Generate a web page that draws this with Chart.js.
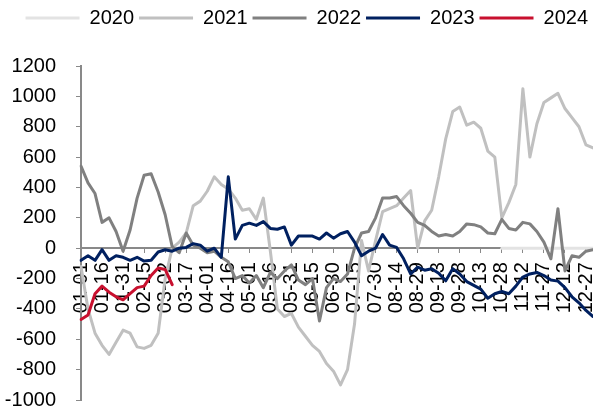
<!DOCTYPE html>
<html>
<head>
<meta charset="utf-8">
<script src="https://cdn.jsdelivr.net/npm/chart.js@4.4.1/dist/chart.umd.min.js"></script>
<style>
  html, body { margin: 0; padding: 0; background: #ffffff; }
  #wrap { width: 593px; height: 412px; }
</style>
</head>
<body>
<div id="wrap"><canvas id="c" width="593" height="412"></canvas></div>
<script>
// ---- data (5-day steps) ----
const categories = [
  '01-01','01-06','01-11','01-16','01-21','01-26','01-31','02-05','02-10','02-15',
  '02-20','02-25','03-02','03-07','03-12','03-17','03-22','03-27','04-01','04-06',
  '04-11','04-16','04-21','04-26','05-01','05-06','05-11','05-16','05-21','05-26',
  '05-31','06-05','06-10','06-15','06-20','06-25','06-30','07-05','07-10','07-15',
  '07-20','07-25','07-30','08-04','08-09','08-14','08-19','08-24','08-29','09-03',
  '09-08','09-13','09-18','09-23','09-28','10-03','10-08','10-13','10-18','10-23',
  '10-28','11-02','11-07','11-12','11-17','11-22','11-27','12-02','12-07','12-12',
  '12-17','12-22','12-27','12-31'
];

const tickLabels = [
  '01-01','01-16','01-31','02-15','03-02','03-17','04-01','04-16','05-01','05-16',
  '05-31','06-15','06-30','07-15','07-30','08-14','08-29','09-13','09-28','10-13',
  '10-28','11-12','11-27','12-12','12-27'
];

const yTicks = { min: -1000, max: 1200, step: 200 };

const s2020 = [
  null,null,null,null,null,null,null,null,null,null,
  null,null,null,null,null,null,null,null,null,null,
  null,null,null,null,null,null,null,null,null,null,
  null,null,null,null,null,null,null,null,null,null,
  null,null,null,null,null,null,null,null,null,null,
  null,null,null,null,null,null,null,null,null,null,
  0,0,0,0,0,0,0,0,0,0,
  0,0,0,0
];

const s2021 = [
  -120,-400,-560,-640,-700,-620,-540,-560,-650,-660,
  -640,-560,-200,0,40,100,280,310,375,470,
  420,390,330,250,260,190,330,-20,-400,-450,
  -430,-520,-580,-640,-680,-760,-810,-900,-800,-500,
  50,-150,50,240,260,280,330,380,0,180,
  250,470,720,900,930,810,830,790,640,600,
  200,300,420,1050,600,820,960,990,1020,920,
  860,800,680,660
];

const s2022 = [
  540,430,360,170,200,110,-20,120,330,480,
  490,370,220,10,-30,100,20,0,-30,-20,
  -60,-90,-200,-180,-230,-180,-260,-160,-200,-150,
  -110,-210,-240,-200,-480,-260,-200,-220,-170,0,
  100,110,200,330,330,340,280,230,170,150,
  110,80,90,80,110,160,155,140,100,95,
  190,130,120,170,160,110,40,-70,260,-150,
  -50,-60,-20,-10
];

const s2023 = [
  -80,-50,-80,-10,-80,-50,-60,-80,-60,-85,
  -80,-25,-10,-20,0,5,30,20,-20,0,
  -60,470,60,150,165,150,175,130,125,140,
  20,80,80,80,60,100,66,95,110,40,
  -50,-20,0,90,20,5,-70,-170,-125,-145,
  -135,-165,-215,-135,-170,-220,-245,-270,-330,-300,
  -285,-300,-250,-190,-170,-160,-180,-210,-217,-260,
  -320,-360,-410,-450
];

const s2024 = [
  -470,-440,-300,-250,-290,-320,-340,-300,-260,-250,
  -180,-130,-140,-240
];

const AXIS = '#898989';
const FONT = 'Arial, "Liberation Sans", sans-serif';

Chart.defaults.font.family = FONT;
Chart.defaults.font.size = 20;
Chart.defaults.color = '#000000';

function ds(label, data, color, order) {
  return {
    label, data,
    borderColor: color, backgroundColor: color,
    borderWidth: 3, pointRadius: 0, pointHoverRadius: 0,
    tension: 0, fill: false, spanGaps: false,
    borderCapStyle: 'round', borderJoinStyle: 'round',
    order
  };
}

const legendGap = {
  id: 'legendGap',
  beforeInit(chart) {
    const fit = chart.legend.fit;
    chart.legend.fit = function () { fit.call(this); this.height += 28; };
  }
};

new Chart(document.getElementById('c'), {
  type: 'line',
  data: {
    labels: categories,
    datasets: [
      ds('2020', s2020, '#e3e3e3', 5),
      ds('2021', s2021, '#c0c0c0', 4),
      ds('2022', s2022, '#808080', 3),
      ds('2023', s2023, '#002060', 2),
      ds('2024', s2024, '#c8102e', 1)
    ]
  },
  options: {
    responsive: false,
    animation: false,
    devicePixelRatio: 1,
    layout: { padding: { left: 5, right: 0, top: 3, bottom: 12 } },
    plugins: {
      legend: {
        position: 'top',
        align: 'end',
        labels: {
          usePointStyle: true,
          pointStyle: 'line',
          pointStyleWidth: 54,
          padding: 5,
          color: '#000000',
          font: { size: 20, family: FONT },
          sort: (a, b) => a.datasetIndex - b.datasetIndex
        }
      },
      tooltip: { enabled: false }
    },
    scales: {
      x: {
        type: 'category',
        position: { y: 0 },
        offset: false,
        afterFit(s) { s.paddingLeft = 0; s.paddingRight = 0; s.paddingTop = 0; s.paddingBottom = 0; },
        grid: {
          drawOnChartArea: false,
          tickLength: 4,
          color: c => tickLabels.includes(categories[c.index]) ? AXIS : 'rgba(0,0,0,0)'
        },
        border: { color: AXIS, width: 2 },
        ticks: {
          autoSkip: false,
          minRotation: 90,
          maxRotation: 90,
          padding: 10,
          color: '#000000',
          font: { size: 20, family: FONT },
          callback: function (v, i) {
            const l = categories[i];
            return tickLabels.includes(l) ? l : '';
          }
        }
      },
      y: {
        min: yTicks.min,
        max: yTicks.max,
        afterFit(s) { s.width = 76; s.paddingTop = 0; s.paddingBottom = 0; },
        ticks: {
          stepSize: yTicks.step,
          padding: 20,
          color: '#000000',
          font: { size: 20, family: FONT },
          callback: v => String(v)
        },
        grid: { drawOnChartArea: false, tickLength: 5, color: AXIS },
        border: { color: AXIS, width: 2 }
      }
    }
  },
  plugins: [legendGap]
});
</script>
</body>
</html>
